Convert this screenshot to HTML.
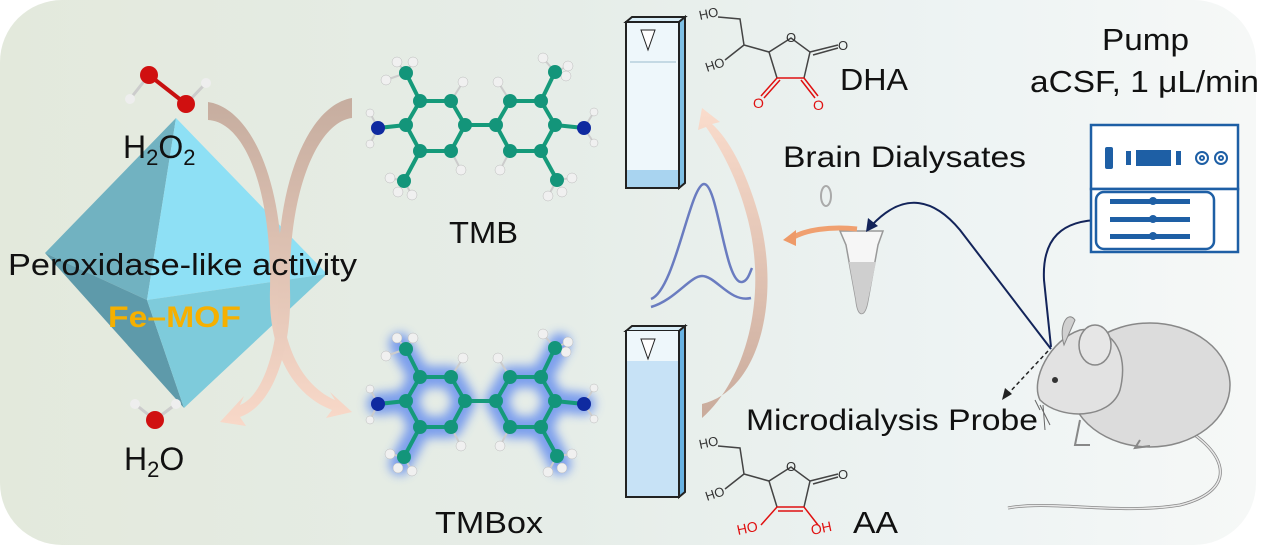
<!DOCTYPE html>
<html><head><meta charset="utf-8"><style>
html,body{margin:0;padding:0;background:#fff;}
svg{display:block;font-family:"Liberation Sans",Arial,sans-serif;}
</style></head><body>
<svg width="1269" height="545" viewBox="0 0 1269 545" xmlns="http://www.w3.org/2000/svg">
<defs>
<linearGradient id="bg" x1="0" y1="0" x2="1" y2="0">
<stop offset="0" stop-color="#e3e9dc"/><stop offset="0.45" stop-color="#e6ede8"/><stop offset="0.75" stop-color="#edf3f3"/><stop offset="1" stop-color="#f6f8f7"/></linearGradient>
<linearGradient id="arrA" x1="0" y1="0" x2="0" y2="1"><stop offset="0" stop-color="#c6ad9f"/><stop offset="1" stop-color="#f8d8c8"/></linearGradient>
<linearGradient id="arrB" x1="0" y1="1" x2="0" y2="0"><stop offset="0" stop-color="#c9ab9c"/><stop offset="1" stop-color="#fadccc"/></linearGradient>
<filter id="glow" x="-20%" y="-20%" width="140%" height="140%"><feGaussianBlur stdDeviation="5"/></filter>
</defs>
<rect x="0" y="0" width="1256" height="545" rx="62" fill="url(#bg)"/>

<!-- octahedron -->
<polygon points="176,118 45,253 147,300" fill="#71b2c1"/>
<polygon points="176,118 147,300 327,274" fill="#8ee0f5"/>
<polygon points="45,253 147,300 184,408" fill="#5e9aaa"/>
<polygon points="147,300 327,274 184,408" fill="#7ecbdb"/>

<!-- crossing arrows -->
<path d="M208,102 C250,108 285,180 282,290 C280,340 300,385 335,400 L330,392 L352,412 L326,418 L332,410 C292,395 268,350 270,290 C272,190 245,122 208,120 Z" fill="url(#arrA)"/>
<path d="M352,98 C310,105 275,180 278,290 C280,340 265,395 240,405 L244,396 L220,422 L246,426 L240,417 C275,405 292,345 290,290 C288,190 318,122 352,118 Z" fill="url(#arrA)"/>

<text x="8" y="275" font-size="31" textLength="349" lengthAdjust="spacingAndGlyphs" fill="#111">Peroxidase-like activity</text>
<text x="108" y="327" font-size="30" font-weight="bold" textLength="133" lengthAdjust="spacingAndGlyphs" fill="#f5b000">Fe–MOF</text>

<!-- H2O2 -->
<g stroke="#c81010" stroke-width="4"><line x1="149" y1="75" x2="186" y2="104"/></g>
<g stroke="#ccc" stroke-width="3"><line x1="149" y1="75" x2="130" y2="99"/><line x1="186" y1="104" x2="206" y2="83"/></g>
<circle cx="149" cy="75" r="9" fill="#d01010"/><circle cx="186" cy="104" r="9" fill="#d01010"/>
<circle cx="130" cy="99" r="5" fill="#eee"/><circle cx="206" cy="83" r="5" fill="#eee"/>
<text x="123" y="158" font-size="32" fill="#111">H<tspan font-size="22" dy="7">2</tspan><tspan dy="-7">O</tspan><tspan font-size="22" dy="7">2</tspan></text>
<!-- H2O -->
<g stroke="#ccc" stroke-width="3"><line x1="155" y1="420" x2="135" y2="404"/><line x1="155" y1="420" x2="176" y2="404"/></g>
<circle cx="155" cy="420" r="9" fill="#d01010"/><circle cx="135" cy="404" r="5" fill="#eee"/><circle cx="176" cy="404" r="5" fill="#eee"/>
<text x="124" y="470" font-size="32" fill="#111">H<tspan font-size="22" dy="7">2</tspan><tspan dy="-7">O</tspan></text>

<!-- TMB -->
<g id="tmb">
<g stroke="#159a7a" stroke-width="4">
<polygon points="420,101 451,101 465,125 451,151 420,151 406,125" fill="none"/>
<polygon points="510,101 541,101 555,125 541,151 510,151 496,125" fill="none"/>
<line x1="465" y1="125" x2="496" y2="125"/>
<line x1="406" y1="125" x2="378" y2="128"/><line x1="555" y1="125" x2="584" y2="128"/>
<line x1="420" y1="101" x2="406" y2="73"/><line x1="541" y1="101" x2="555" y2="72"/>
<line x1="420" y1="151" x2="404" y2="181"/><line x1="541" y1="151" x2="557" y2="180"/>
</g>
<g stroke="#ccc" stroke-width="2">
<line x1="406" y1="73" x2="397" y2="62"/><line x1="406" y1="73" x2="386" y2="80"/><line x1="406" y1="73" x2="413" y2="62"/>
<line x1="555" y1="72" x2="543" y2="58"/><line x1="555" y1="72" x2="568" y2="66"/>
<line x1="404" y1="181" x2="390" y2="178"/><line x1="404" y1="181" x2="412" y2="195"/>
<line x1="557" y1="180" x2="572" y2="178"/><line x1="557" y1="180" x2="548" y2="196"/>
<line x1="378" y1="128" x2="370" y2="113"/><line x1="378" y1="128" x2="370" y2="144"/>
<line x1="584" y1="128" x2="594" y2="112"/><line x1="584" y1="128" x2="594" y2="143"/>
<line x1="451" y1="101" x2="463" y2="82"/><line x1="510" y1="101" x2="498" y2="82"/>
<line x1="451" y1="151" x2="461" y2="170"/><line x1="510" y1="151" x2="500" y2="170"/>
</g>
<g fill="#f0f0f0" stroke="#bbb" stroke-width="0.5">
<circle cx="463" cy="82" r="5"/><circle cx="498" cy="82" r="5"/><circle cx="461" cy="170" r="5"/><circle cx="500" cy="170" r="5"/>
<circle cx="397" cy="62" r="5"/><circle cx="413" cy="62" r="5"/><circle cx="386" cy="80" r="5"/>
<circle cx="543" cy="58" r="5"/><circle cx="568" cy="66" r="5"/><circle cx="566" cy="76" r="5"/>
<circle cx="390" cy="178" r="5"/><circle cx="412" cy="195" r="5"/><circle cx="398" cy="192" r="5"/>
<circle cx="572" cy="178" r="5"/><circle cx="548" cy="196" r="5"/><circle cx="562" cy="192" r="5"/>
<circle cx="370" cy="113" r="4"/><circle cx="370" cy="144" r="4"/><circle cx="594" cy="112" r="4"/><circle cx="594" cy="143" r="4"/>
</g>
<g fill="#13957a">
<circle cx="420" cy="101" r="7"/><circle cx="451" cy="101" r="7"/><circle cx="465" cy="125" r="7"/><circle cx="451" cy="151" r="7"/><circle cx="420" cy="151" r="7"/><circle cx="406" cy="125" r="7"/>
<circle cx="510" cy="101" r="7"/><circle cx="541" cy="101" r="7"/><circle cx="555" cy="125" r="7"/><circle cx="541" cy="151" r="7"/><circle cx="510" cy="151" r="7"/><circle cx="496" cy="125" r="7"/>
<circle cx="406" cy="73" r="7"/><circle cx="555" cy="72" r="7"/><circle cx="404" cy="181" r="7"/><circle cx="557" cy="180" r="7"/>
</g>
<circle cx="378" cy="128" r="7" fill="#0f2aa0"/><circle cx="584" cy="128" r="7" fill="#0f2aa0"/>
</g>
<text x="449" y="243" font-size="31" textLength="69" lengthAdjust="spacingAndGlyphs" fill="#111">TMB</text>

<!-- TMBox -->
<g transform="translate(0,276)">
<g filter="url(#glow)" opacity="0.7" stroke="#4f7ef0" stroke-width="22" fill="none" stroke-linecap="round" stroke-linejoin="round">
<polygon points="420,101 451,101 465,125 451,151 420,151 406,125"/>
<polygon points="510,101 541,101 555,125 541,151 510,151 496,125"/>
<line x1="406" y1="125" x2="378" y2="128"/><line x1="555" y1="125" x2="584" y2="128"/>
<line x1="420" y1="101" x2="400" y2="68"/><line x1="541" y1="101" x2="560" y2="68"/>
<line x1="420" y1="151" x2="400" y2="188"/><line x1="541" y1="151" x2="560" y2="188"/>
</g>
<use href="#tmb"/>
</g>
<text x="435" y="533" font-size="31" textLength="108" lengthAdjust="spacingAndGlyphs" fill="#111">TMBox</text>

<!-- cuvettes -->
<g stroke="#222" stroke-width="2">
<polygon points="626,22 632,17 685,17 679,22" fill="#d7ecf6"/>
<rect x="626" y="22" width="53" height="166" fill="#eef7fb"/>
<polygon points="679,22 685,17 685,183 679,188" fill="#7fc0e5"/>
<rect x="627" y="170" width="51" height="17" fill="#a9d4f0" stroke="none"/>
<polygon points="641,30 655,30 648,50" fill="#fff" stroke-width="1"/>
<line x1="630" y1="62" x2="676" y2="62" stroke="#9bc" stroke-width="1"/>
<polygon points="626,331 632,326 685,326 679,331" fill="#d7ecf6"/>
<rect x="626" y="331" width="53" height="166" fill="#c7e2f6"/>
<polygon points="679,331 685,326 685,492 679,497" fill="#68b2e2"/>
<rect x="627" y="331" width="51" height="30" fill="#eef7fb" stroke="none"/>
<polygon points="641,339 655,339 648,359" fill="#fff" stroke-width="1"/>
</g>

<!-- DHA -->
<g fill="none" stroke="#444" stroke-width="1.5">
<path d="M718,17 L740,19 L744,45 L725,60 M744,45 L769,52 L791,38 L810,52 L804,78 M769,52 L777,78 M810,52 L838,45"/>
<path d="M813,55 L838,48"/>
</g>
<g fill="none" stroke="#e01010" stroke-width="1.5"><path d="M777,78 L804,78 M777,78 L761,96 M780,80 L764,98 M804,78 L818,96 M801,80 L815,98"/></g>
<g font-size="13" fill="#333"><text x="700" y="20" transform="rotate(-12 700 20)">HO</text><text x="707" y="72" transform="rotate(-18 707 72)">HO</text><text x="786" y="42">O</text><text x="838" y="50">O</text></g>
<g font-size="14" fill="#e01010"><text x="753" y="108">O</text><text x="813" y="110">O</text></g>
<text x="840" y="90" font-size="31" textLength="68" lengthAdjust="spacingAndGlyphs" fill="#111">DHA</text>

<!-- AA -->
<g transform="translate(0,429)">
<g fill="none" stroke="#444" stroke-width="1.5">
<path d="M718,17 L740,19 L744,45 L725,60 M744,45 L769,52 L791,38 L810,52 L804,78 M769,52 L777,78 M810,52 L838,45"/>
<path d="M813,55 L838,48"/>
</g>
<g fill="none" stroke="#e01010" stroke-width="1.5"><path d="M777,78 L804,78 M778,82 L803,82 M777,78 L761,96 M804,78 L818,96"/></g>
<g font-size="13" fill="#333"><text x="700" y="20" transform="rotate(-12 700 20)">HO</text><text x="707" y="72" transform="rotate(-18 707 72)">HO</text><text x="786" y="42">O</text><text x="838" y="50">O</text></g>
<g font-size="14" fill="#e01010"><text x="738" y="106" transform="rotate(-12 738 106)">HO</text><text x="812" y="106" transform="rotate(-12 812 106)">OH</text></g>
</g>
<text x="853" y="533" font-size="31" textLength="45" lengthAdjust="spacingAndGlyphs" fill="#111">AA</text>

<!-- peaks -->
<g fill="none" stroke="#6a7cc0" stroke-width="2.5">
<path d="M651,299 C675,290 690,185 704,184 C718,184 725,285 742,282 C748,281 750,272 752,268"/>
<path d="M651,307 C675,300 690,276 702,276 C716,276 730,303 751,298"/>
</g>
<!-- peach arrow -->
<path d="M702,404 C760,390 780,300 760,220 C748,175 730,140 712,124 L720,122 L702,108 L698,130 L706,127 C722,150 738,180 748,220 C768,300 745,380 702,418 Z" fill="url(#arrB)"/>

<text x="783" y="167" font-size="30" textLength="243" lengthAdjust="spacingAndGlyphs" fill="#111">Brain Dialysates</text>
<!-- tube -->
<ellipse cx="826" cy="196" rx="5" ry="10" fill="none" stroke="#aaa" stroke-width="2"/>
<path d="M840,231 L883,231 L878,245 L868,300 C865,318 858,318 856,300 L846,245 Z" fill="#f6f6f6" stroke="#999" stroke-width="1.5"/>
<path d="M849,262 L876,262 L868,300 C865,318 858,318 856,300 Z" fill="#cfcfcf"/>
<path d="M857,229 C830,226 805,230 792,238" fill="none" stroke="#f0a070" stroke-width="5"/>
<polygon points="783,240 796,230 796,246" fill="#ee9a68"/>

<!-- navy lines -->
<g fill="none" stroke="#13245a" stroke-width="2">
<path d="M1051,349 L960,230 C935,200 905,190 872,225"/>
<path d="M1108,220 C1060,218 1042,240 1044,280 L1051,347"/>
</g>
<polygon points="866,232 868,218 878,226" fill="#13245a"/>
<line x1="1048" y1="351" x2="1007" y2="395" stroke="#222" stroke-width="1.5" stroke-dasharray="4,3"/>
<polygon points="1002,400 1005,388 1012,394" fill="#222"/>

<!-- pump -->
<text x="1102" y="50" font-size="31" textLength="87" lengthAdjust="spacingAndGlyphs" fill="#111">Pump</text>
<text x="1030" y="92" font-size="31" textLength="229" lengthAdjust="spacingAndGlyphs" fill="#111">aCSF, 1 μL/min</text>
<g stroke="#1e5fa5" stroke-width="2.5" fill="#fff">
<rect x="1091" y="125" width="147" height="64"/>
<rect x="1091" y="189" width="147" height="63"/>
<rect x="1096" y="192" width="118" height="57" rx="8"/>
</g>
<g fill="#1e5fa5">
<rect x="1105" y="147" width="8" height="22" rx="2"/><rect x="1126" y="151" width="5" height="14"/><rect x="1136" y="150" width="35" height="16"/><rect x="1176" y="151" width="5" height="14"/>
<rect x="1110" y="199" width="80" height="5"/><rect x="1110" y="217" width="80" height="5"/><rect x="1110" y="234" width="80" height="5"/>
<circle cx="1153" cy="201" r="4"/><circle cx="1153" cy="219" r="4"/><circle cx="1153" cy="236" r="4"/>
</g>
<g fill="none" stroke="#1e5fa5" stroke-width="2"><circle cx="1202" cy="158" r="6"/><circle cx="1221" cy="158" r="6"/><circle cx="1202" cy="158" r="2"/><circle cx="1221" cy="158" r="2"/></g>

<!-- mouse -->
<path d="M1170,420 C1230,450 1240,490 1180,505 C1120,515 1050,500 1008,508" fill="none" stroke="#888" stroke-width="3"/>
<path d="M1170,420 C1230,450 1240,490 1180,505 C1120,515 1050,500 1008,508" fill="none" stroke="#e8e8e8" stroke-width="1.5"/>
<ellipse cx="1150" cy="385" rx="80" ry="62" fill="#dcdcdc" stroke="#888" stroke-width="1.5"/>
<path d="M1040,400 C1030,380 1050,340 1080,330 C1110,325 1130,350 1120,390 C1110,420 1060,420 1040,400 Z" fill="#e2e2e2" stroke="#888" stroke-width="1.5"/>
<path d="M1064,345 C1058,325 1068,310 1075,320 Z" fill="#d0d0d0" stroke="#888"/>
<ellipse cx="1095" cy="345" rx="16" ry="20" fill="#e6e6e6" stroke="#888" stroke-width="1.5"/>
<circle cx="1055" cy="380" r="3" fill="#333"/>
<path d="M1035,400 L1040,410 M1040,405 L1050,425 M1043,405 L1045,430" stroke="#666" stroke-width="1"/>
<path d="M1080,420 L1075,445 L1090,445 M1140,440 L1135,448 L1150,446" fill="none" stroke="#888" stroke-width="2"/>
<text x="746" y="430" font-size="30" textLength="292" lengthAdjust="spacingAndGlyphs" fill="#111">Microdialysis Probe</text>
</svg>
</body></html>
